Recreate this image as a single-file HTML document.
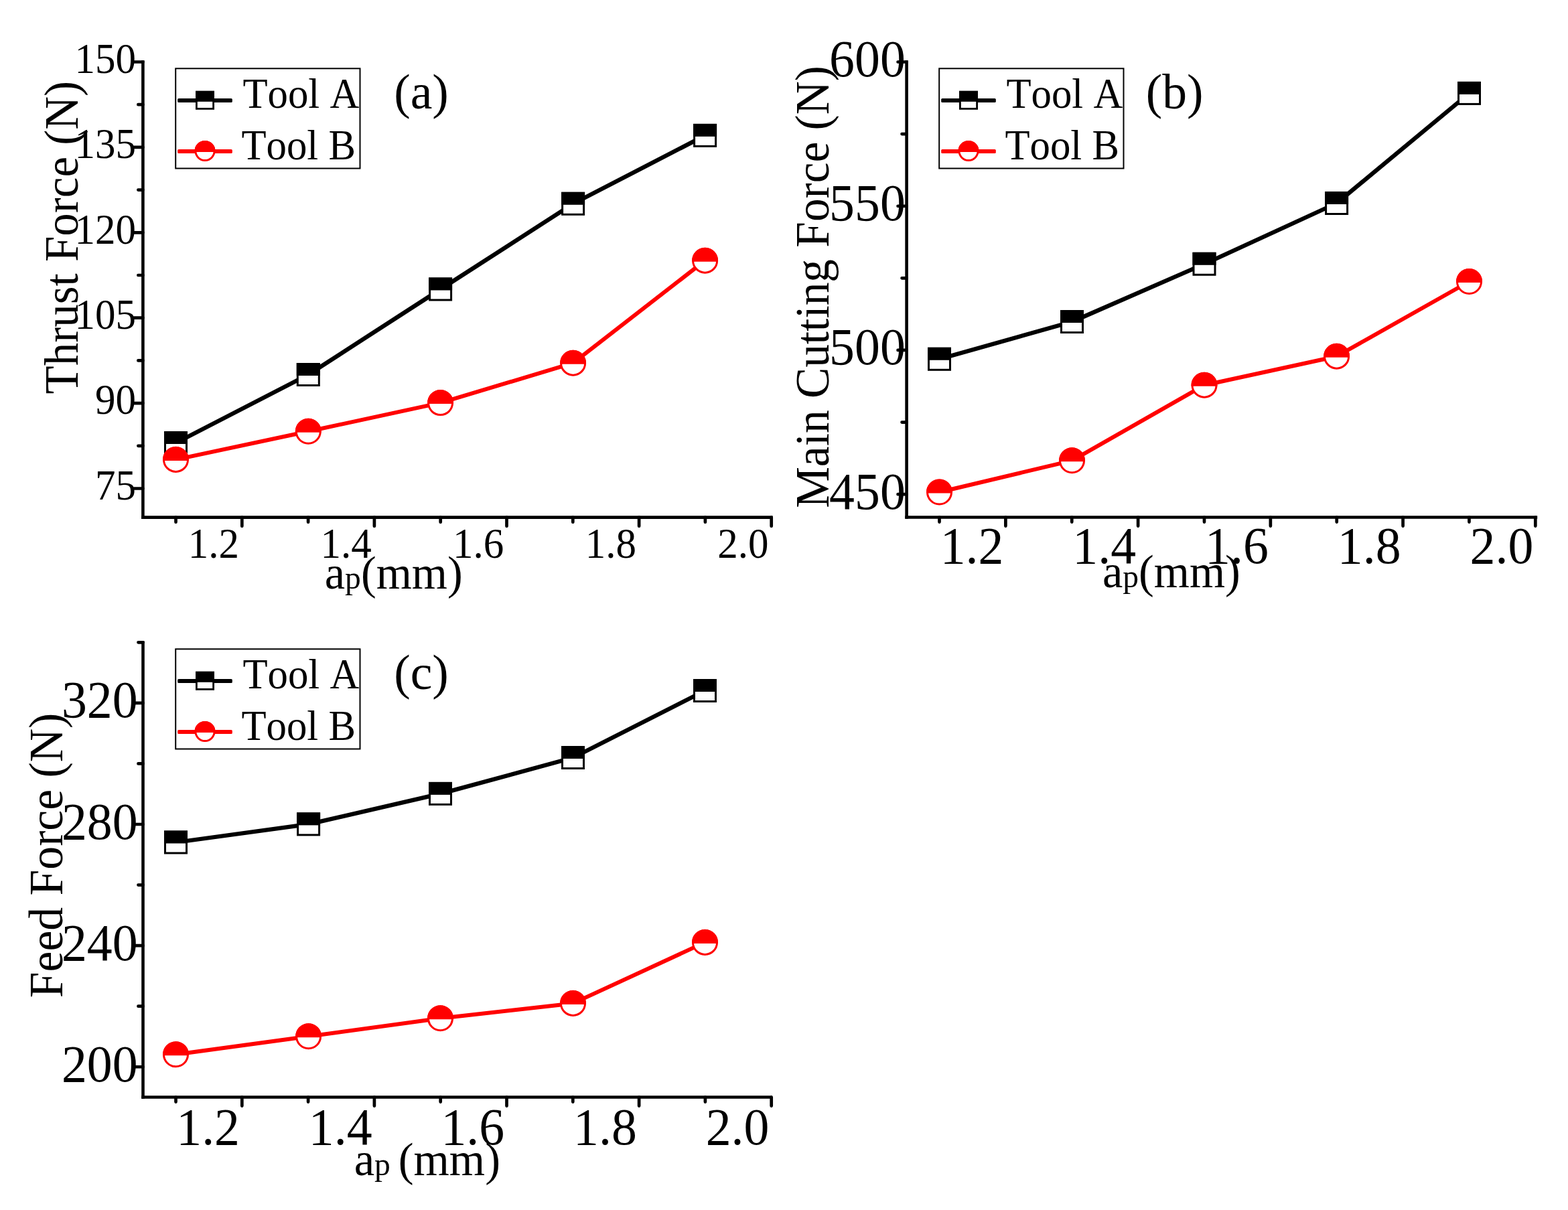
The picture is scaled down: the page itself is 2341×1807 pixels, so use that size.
<!DOCTYPE html><html><head><meta charset="utf-8"><title>Cutting forces vs depth of cut</title><style>html,body{margin:0;padding:0;background:#fff}svg{display:block}text{font-family:'Liberation Serif', 'Times New Roman', serif;fill:#000;font-kerning:none;font-feature-settings:"kern" 0}</style></head><body>
<svg width="2341" height="1807" viewBox="0 0 2341 1807">
<rect width="2341" height="1807" fill="#fff"/>
<line x1="213.4" y1="90.3" x2="213.4" y2="774.9" stroke="#000" stroke-width="4.6"/>
<line x1="211.1" y1="772.6" x2="1153.6" y2="772.6" stroke="#000" stroke-width="4.6"/>
<path d="M200.35 92.5H213.4M200.35 219.9H213.4M200.35 347.3H213.4M200.35 474.7H213.4M200.35 602.1H213.4M200.35 729.5H213.4M206.35 156.2H213.4M206.35 283.6H213.4M206.35 411H213.4M206.35 538.4H213.4M206.35 665.8H213.4M361.3 772.6V785.65M558.9 772.6V785.65M756.5 772.6V785.65M954.1 772.6V785.65M1151.7 772.6V785.65M262.5 772.6V779.65M460.1 772.6V779.65M657.7 772.6V779.65M855.3 772.6V779.65M1052.9 772.6V779.65" stroke="#000" stroke-width="4.7" stroke-linecap="round" fill="none"/>
<rect x="262.2" y="102.3" width="275.3" height="149.2" fill="none" stroke="#000" stroke-width="2"/>
<rect x="265.2" y="147" width="81.6" height="6" rx="1.6" fill="#000"/>
<rect x="293.4" y="137.2" width="25.2" height="25.2" fill="#fff" stroke="#000" stroke-width="2.8"/>
<rect x="292" y="135.8" width="28" height="16" fill="#000"/>
<rect x="265.2" y="223" width="81.6" height="6" rx="1.6" fill="#f00"/>
<circle cx="306" cy="225.5" r="14.05" fill="#fff" stroke="#f00" stroke-width="2.9"/>
<path d="M290.56 226.9A15.5 15.5 0 1 1 321.44 226.9Z" fill="#f00"/>
<polyline points="262.5,661.5 460.3,559.5 657.6,432 855.6,304.3 1052.6,202.4" fill="none" stroke="#000" stroke-width="6.3" stroke-linejoin="round"/>
<rect x="246.5" y="645.5" width="32" height="32" fill="#fff" stroke="#000" stroke-width="3"/>
<rect x="245" y="644" width="35" height="19" fill="#000"/>
<rect x="444.3" y="543.5" width="32" height="32" fill="#fff" stroke="#000" stroke-width="3"/>
<rect x="442.8" y="542" width="35" height="19" fill="#000"/>
<rect x="641.6" y="416" width="32" height="32" fill="#fff" stroke="#000" stroke-width="3"/>
<rect x="640.1" y="414.5" width="35" height="19" fill="#000"/>
<rect x="839.6" y="288.3" width="32" height="32" fill="#fff" stroke="#000" stroke-width="3"/>
<rect x="838.1" y="286.8" width="35" height="19" fill="#000"/>
<rect x="1036.6" y="186.4" width="32" height="32" fill="#fff" stroke="#000" stroke-width="3"/>
<rect x="1035.1" y="184.9" width="35" height="19" fill="#000"/>
<polyline points="262.5,686.4 460.3,644.3 657.6,601.6 855.6,542.2 1052.6,389.2" fill="none" stroke="#f00" stroke-width="6.0" stroke-linejoin="round"/>
<circle cx="262.5" cy="686.4" r="18" fill="#fff" stroke="#f00" stroke-width="3"/>
<path d="M243.06 687.9A19.5 19.5 0 1 1 281.94 687.9Z" fill="#f00"/>
<circle cx="460.3" cy="644.3" r="18" fill="#fff" stroke="#f00" stroke-width="3"/>
<path d="M440.86 645.8A19.5 19.5 0 1 1 479.74 645.8Z" fill="#f00"/>
<circle cx="657.6" cy="601.6" r="18" fill="#fff" stroke="#f00" stroke-width="3"/>
<path d="M638.16 603.1A19.5 19.5 0 1 1 677.04 603.1Z" fill="#f00"/>
<circle cx="855.6" cy="542.2" r="18" fill="#fff" stroke="#f00" stroke-width="3"/>
<path d="M836.16 543.7A19.5 19.5 0 1 1 875.04 543.7Z" fill="#f00"/>
<circle cx="1052.6" cy="389.2" r="18" fill="#fff" stroke="#f00" stroke-width="3"/>
<path d="M1033.16 390.7A19.5 19.5 0 1 1 1072.04 390.7Z" fill="#f00"/>
<line x1="1353.6" y1="90.2" x2="1353.6" y2="774.8" stroke="#000" stroke-width="4.6"/>
<line x1="1351.3" y1="772.5" x2="2295.2" y2="772.5" stroke="#000" stroke-width="4.6"/>
<path d="M1340.55 92.5H1353.6M1340.55 307.74H1353.6M1340.55 522.97H1353.6M1340.55 738.21H1353.6M1346.55 200.12H1353.6M1346.55 415.35H1353.6M1346.55 630.59H1353.6M1501.37 772.5V785.55M1699.11 772.5V785.55M1896.85 772.5V785.55M2094.59 772.5V785.55M2292.33 772.5V785.55M1402.5 772.5V779.55M1600.24 772.5V779.55M1797.98 772.5V779.55M1995.72 772.5V779.55M2193.46 772.5V779.55" stroke="#000" stroke-width="4.7" stroke-linecap="round" fill="none"/>
<rect x="1402.2" y="102.3" width="275.3" height="149.2" fill="none" stroke="#000" stroke-width="2"/>
<rect x="1405.2" y="147" width="81.6" height="6" rx="1.6" fill="#000"/>
<rect x="1433.4" y="137.2" width="25.2" height="25.2" fill="#fff" stroke="#000" stroke-width="2.8"/>
<rect x="1432" y="135.8" width="28" height="16" fill="#000"/>
<rect x="1405.2" y="223" width="81.6" height="6" rx="1.6" fill="#f00"/>
<circle cx="1446" cy="225.5" r="14.05" fill="#fff" stroke="#f00" stroke-width="2.9"/>
<path d="M1430.56 226.9A15.5 15.5 0 1 1 1461.44 226.9Z" fill="#f00"/>
<polyline points="1402.5,536.3 1600.5,480.5 1798,394.3 1995.6,303.5 2193.5,139.4" fill="none" stroke="#000" stroke-width="6.3" stroke-linejoin="round"/>
<rect x="1386.5" y="520.3" width="32" height="32" fill="#fff" stroke="#000" stroke-width="3"/>
<rect x="1385" y="518.8" width="35" height="19" fill="#000"/>
<rect x="1584.5" y="464.5" width="32" height="32" fill="#fff" stroke="#000" stroke-width="3"/>
<rect x="1583" y="463" width="35" height="19" fill="#000"/>
<rect x="1782" y="378.3" width="32" height="32" fill="#fff" stroke="#000" stroke-width="3"/>
<rect x="1780.5" y="376.8" width="35" height="19" fill="#000"/>
<rect x="1979.6" y="287.5" width="32" height="32" fill="#fff" stroke="#000" stroke-width="3"/>
<rect x="1978.1" y="286" width="35" height="19" fill="#000"/>
<rect x="2177.5" y="123.4" width="32" height="32" fill="#fff" stroke="#000" stroke-width="3"/>
<rect x="2176" y="121.9" width="35" height="19" fill="#000"/>
<polyline points="1402.5,735 1600.5,687.8 1798,575.2 1995.6,532.2 2193.5,420.5" fill="none" stroke="#f00" stroke-width="6.0" stroke-linejoin="round"/>
<circle cx="1402.5" cy="735" r="18" fill="#fff" stroke="#f00" stroke-width="3"/>
<path d="M1383.06 736.5A19.5 19.5 0 1 1 1421.94 736.5Z" fill="#f00"/>
<circle cx="1600.5" cy="687.8" r="18" fill="#fff" stroke="#f00" stroke-width="3"/>
<path d="M1581.06 689.3A19.5 19.5 0 1 1 1619.94 689.3Z" fill="#f00"/>
<circle cx="1798" cy="575.2" r="18" fill="#fff" stroke="#f00" stroke-width="3"/>
<path d="M1778.56 576.7A19.5 19.5 0 1 1 1817.44 576.7Z" fill="#f00"/>
<circle cx="1995.6" cy="532.2" r="18" fill="#fff" stroke="#f00" stroke-width="3"/>
<path d="M1976.16 533.7A19.5 19.5 0 1 1 2015.04 533.7Z" fill="#f00"/>
<circle cx="2193.5" cy="420.5" r="18" fill="#fff" stroke="#f00" stroke-width="3"/>
<path d="M2174.06 422A19.5 19.5 0 1 1 2212.94 422Z" fill="#f00"/>
<line x1="213.5" y1="957.6" x2="213.5" y2="1640.8" stroke="#000" stroke-width="4.6"/>
<line x1="211.2" y1="1638.5" x2="1152.8" y2="1638.5" stroke="#000" stroke-width="4.6"/>
<path d="M200.45 1049.9H213.5M200.45 1231.02H213.5M200.45 1412.14H213.5M200.45 1593.26H213.5M206.45 959.34H213.5M206.45 1140.46H213.5M206.45 1321.58H213.5M206.45 1502.7H213.5M361.3 1638.5V1651.55M558.9 1638.5V1651.55M756.5 1638.5V1651.55M954.1 1638.5V1651.55M1151.7 1638.5V1651.55M262.5 1638.5V1645.55M460.1 1638.5V1645.55M657.7 1638.5V1645.55M855.3 1638.5V1645.55M1052.9 1638.5V1645.55" stroke="#000" stroke-width="4.7" stroke-linecap="round" fill="none"/>
<rect x="262.2" y="969.3" width="275.3" height="149.2" fill="none" stroke="#000" stroke-width="2"/>
<rect x="265.2" y="1014" width="81.6" height="6" rx="1.6" fill="#000"/>
<rect x="293.4" y="1004.2" width="25.2" height="25.2" fill="#fff" stroke="#000" stroke-width="2.8"/>
<rect x="292" y="1002.8" width="28" height="16" fill="#000"/>
<rect x="265.2" y="1090" width="81.6" height="6" rx="1.6" fill="#f00"/>
<circle cx="306" cy="1092.5" r="14.05" fill="#fff" stroke="#f00" stroke-width="2.9"/>
<path d="M290.56 1093.9A15.5 15.5 0 1 1 321.44 1093.9Z" fill="#f00"/>
<polyline points="262.5,1258 460.6,1230.9 657.5,1185.4 855.5,1131.5 1052.5,1031.5" fill="none" stroke="#000" stroke-width="6.3" stroke-linejoin="round"/>
<rect x="246.5" y="1242" width="32" height="32" fill="#fff" stroke="#000" stroke-width="3"/>
<rect x="245" y="1240.5" width="35" height="19" fill="#000"/>
<rect x="444.6" y="1214.9" width="32" height="32" fill="#fff" stroke="#000" stroke-width="3"/>
<rect x="443.1" y="1213.4" width="35" height="19" fill="#000"/>
<rect x="641.5" y="1169.4" width="32" height="32" fill="#fff" stroke="#000" stroke-width="3"/>
<rect x="640" y="1167.9" width="35" height="19" fill="#000"/>
<rect x="839.5" y="1115.5" width="32" height="32" fill="#fff" stroke="#000" stroke-width="3"/>
<rect x="838" y="1114" width="35" height="19" fill="#000"/>
<rect x="1036.5" y="1015.5" width="32" height="32" fill="#fff" stroke="#000" stroke-width="3"/>
<rect x="1035" y="1014" width="35" height="19" fill="#000"/>
<polyline points="262.5,1574.8 460.6,1547.8 657.5,1520.8 855.5,1498.4 1052.5,1407.4" fill="none" stroke="#f00" stroke-width="6.0" stroke-linejoin="round"/>
<circle cx="262.5" cy="1574.8" r="18" fill="#fff" stroke="#f00" stroke-width="3"/>
<path d="M243.06 1576.3A19.5 19.5 0 1 1 281.94 1576.3Z" fill="#f00"/>
<circle cx="460.6" cy="1547.8" r="18" fill="#fff" stroke="#f00" stroke-width="3"/>
<path d="M441.16 1549.3A19.5 19.5 0 1 1 480.04 1549.3Z" fill="#f00"/>
<circle cx="657.5" cy="1520.8" r="18" fill="#fff" stroke="#f00" stroke-width="3"/>
<path d="M638.06 1522.3A19.5 19.5 0 1 1 676.94 1522.3Z" fill="#f00"/>
<circle cx="855.5" cy="1498.4" r="18" fill="#fff" stroke="#f00" stroke-width="3"/>
<path d="M836.06 1499.9A19.5 19.5 0 1 1 874.94 1499.9Z" fill="#f00"/>
<circle cx="1052.5" cy="1407.4" r="18" fill="#fff" stroke="#f00" stroke-width="3"/>
<path d="M1033.06 1408.9A19.5 19.5 0 1 1 1071.94 1408.9Z" fill="#f00"/>
<text transform="translate(203 108.8) scale(1 1.03)" font-size="61" text-anchor="end">150</text>
<text transform="translate(203 236.2) scale(1 1.03)" font-size="61" text-anchor="end">135</text>
<text transform="translate(203 363.6) scale(1 1.03)" font-size="61" text-anchor="end">120</text>
<text transform="translate(203 491) scale(1 1.03)" font-size="61" text-anchor="end">105</text>
<text transform="translate(203 618.4) scale(1 1.03)" font-size="61" text-anchor="end">90</text>
<text transform="translate(203 745.8) scale(1 1.03)" font-size="61" text-anchor="end">75</text>
<text transform="translate(357.1 832.8) scale(1 1.05)" font-size="61" text-anchor="end">1.2</text>
<text transform="translate(554.7 832.8) scale(1 1.05)" font-size="61" text-anchor="end">1.4</text>
<text transform="translate(752.3 832.8) scale(1 1.05)" font-size="61" text-anchor="end">1.6</text>
<text transform="translate(949.9 832.8) scale(1 1.05)" font-size="61" text-anchor="end">1.8</text>
<text transform="translate(1147.5 832.8) scale(1 1.05)" font-size="61" text-anchor="end">2.0</text>
<text transform="translate(1351.8 114) scale(1 1.02)" font-size="75.8" text-anchor="end">600</text>
<text transform="translate(1351.8 329.24) scale(1 1.02)" font-size="75.8" text-anchor="end">550</text>
<text transform="translate(1351.8 544.47) scale(1 1.02)" font-size="75.8" text-anchor="end">500</text>
<text transform="translate(1351.8 759.71) scale(1 1.02)" font-size="75.8" text-anchor="end">450</text>
<text transform="translate(1498.37 841.4) scale(1 1.02)" font-size="75.8" text-anchor="end">1.2</text>
<text transform="translate(1696.11 841.4) scale(1 1.02)" font-size="75.8" text-anchor="end">1.4</text>
<text transform="translate(1893.85 841.4) scale(1 1.02)" font-size="75.8" text-anchor="end">1.6</text>
<text transform="translate(2091.59 841.4) scale(1 1.02)" font-size="75.8" text-anchor="end">1.8</text>
<text transform="translate(2289.33 841.4) scale(1 1.02)" font-size="75.8" text-anchor="end">2.0</text>
<text transform="translate(205.6 1071.4) scale(1 1.02)" font-size="75.8" text-anchor="end">320</text>
<text transform="translate(205.6 1252.52) scale(1 1.02)" font-size="75.8" text-anchor="end">280</text>
<text transform="translate(205.6 1433.64) scale(1 1.02)" font-size="75.8" text-anchor="end">240</text>
<text transform="translate(205.6 1614.76) scale(1 1.02)" font-size="75.8" text-anchor="end">200</text>
<text transform="translate(358 1708.8) scale(1 1.02)" font-size="75.8" text-anchor="end">1.2</text>
<text transform="translate(555.6 1708.8) scale(1 1.02)" font-size="75.8" text-anchor="end">1.4</text>
<text transform="translate(753.2 1708.8) scale(1 1.02)" font-size="75.8" text-anchor="end">1.6</text>
<text transform="translate(950.8 1708.8) scale(1 1.02)" font-size="75.8" text-anchor="end">1.8</text>
<text transform="translate(1148.4 1708.8) scale(1 1.02)" font-size="75.8" text-anchor="end">2.0</text>
<text transform="translate(115.8 588.4) rotate(-90) scale(1 1.04)" font-size="69.0">Thrust Force (N)</text>
<text transform="translate(1237.1 758.8) rotate(-90) scale(1 1.04)" font-size="69.35">Main Cutting Force (N)</text>
<text transform="translate(93.3 1490.2) rotate(-90) scale(1 1.04)" font-size="69.65">Feed Force (N)</text>
<text transform="translate(484.8 879.3) scale(1 1.01)" font-size="68.3">a<tspan font-size="47.6">p</tspan>(mm)</text>
<text transform="translate(1646 876.5) scale(1 1.01)" font-size="68.3">a<tspan font-size="47.6">p</tspan>(mm)</text>
<text transform="translate(528.7 1755.4) scale(1 1.03)" font-size="68.5">a<tspan font-size="47.6">p </tspan>(mm)</text>
<text transform="translate(362.5 161.3) scale(1 1.04)" font-size="60.75">Tool A</text>
<text transform="translate(360.5 237.6) scale(1 1.04)" font-size="60.75">Tool B</text>
<text transform="translate(1502.5 161.3) scale(1 1.04)" font-size="60.75">Tool A</text>
<text transform="translate(1500.5 237.6) scale(1 1.04)" font-size="60.75">Tool B</text>
<text transform="translate(362.5 1028.3) scale(1 1.04)" font-size="60.75">Tool A</text>
<text transform="translate(360.5 1104.6) scale(1 1.04)" font-size="60.75">Tool B</text>
<text transform="translate(588.2 162)" font-size="73.5">(a)</text>
<text transform="translate(1710.8 162)" font-size="73.5">(b)</text>
<text transform="translate(588.2 1029)" font-size="73.5">(c)</text>
</svg></body></html>
